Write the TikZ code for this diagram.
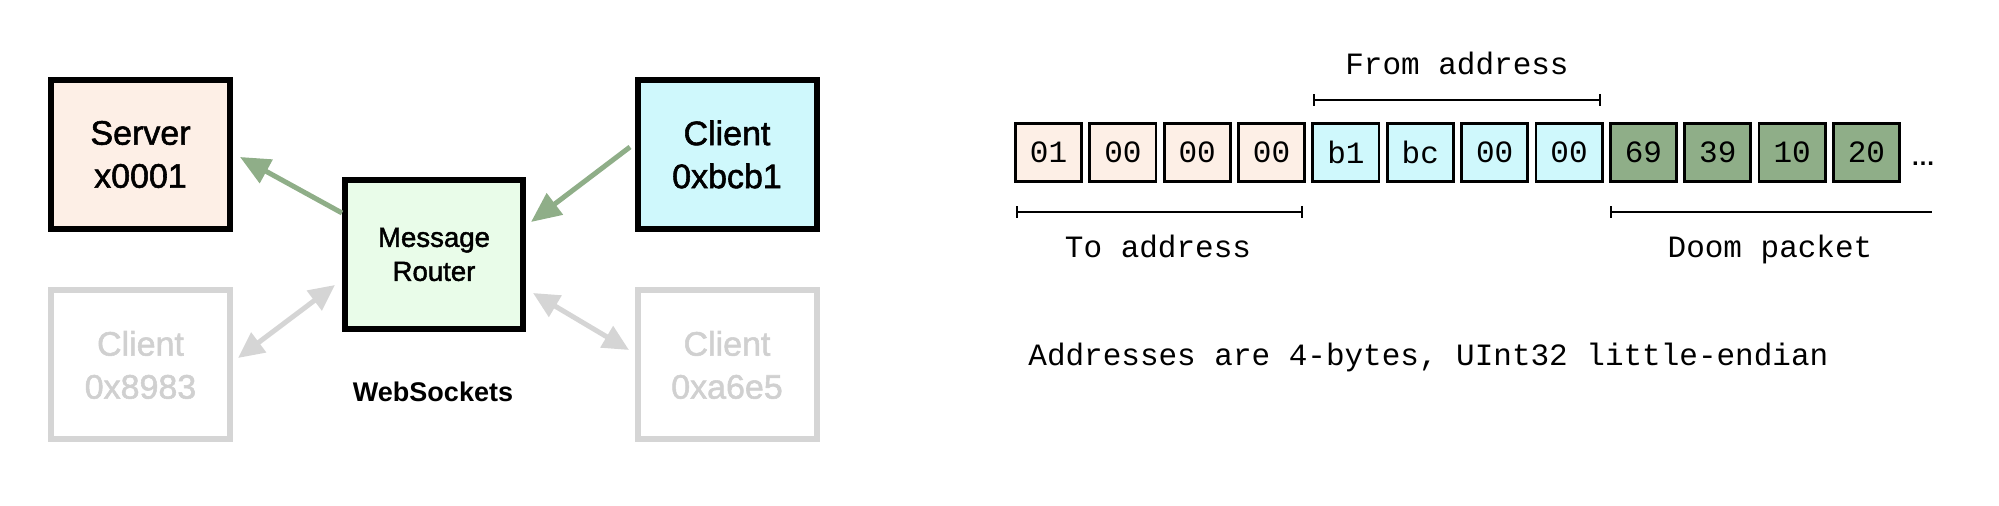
\documentclass[tikz,border=0pt]{standalone}
\usepackage{fontspec}
\newfontfamily\hv[FakeBold=1.6]{Liberation Sans}
\newfontfamily\hvb{Liberation Sans}
\newfontfamily\cour{Liberation Mono}
\usetikzlibrary{arrows.meta,calc}
\definecolor{peach}{HTML}{FDEFE6}
\definecolor{mint}{HTML}{E9FCE9}
\definecolor{cyanbox}{HTML}{CFF8FC}
\definecolor{sage}{HTML}{8FAE88}
\definecolor{fadegray}{HTML}{D5D5D5}
\definecolor{fadetext}{HTML}{D0D0D0}
\begin{document}
\begin{tikzpicture}[x=0.5pt,y=-0.5pt,
  bigbox/.style={draw=black, line width=3pt, minimum width=89.5pt, minimum height=74.5pt,
    inner sep=0pt, align=center, font=\hv\fontsize{17}{21.5}\selectfont},
  fadebox/.style={bigbox, draw=fadegray, text=fadetext},
  garrow/.style={draw=sage, line width=2.5pt, -{Triangle[length=15pt,width=13pt]}},
  farrow/.style={draw=fadegray, line width=2.5pt,
    {Triangle[length=13pt,width=12pt]}-{Triangle[length=13pt,width=12pt]}},
  bytebox/.style={draw=black, line width=1.4pt, minimum width=33.1pt, minimum height=29.1pt,
    inner sep=0pt, font=\cour\fontsize{15.5}{18}\selectfont},
  tobyte/.style={bytebox, fill=peach},
  frombyte/.style={bytebox, fill=cyanbox},
  doombyte/.style={bytebox, fill=sage},
  monolabel/.style={font=\cour\fontsize{15.5}{18}\selectfont, inner sep=0pt, anchor=base},
  bracket/.style={draw=black, line width=1.1pt}
]
\useasboundingbox (0,0) rectangle (1999,506);

% left diagram
\node[bigbox, fill=peach] (srv) at (140.5,154.5) {Server\\x0001};
\node[bigbox, fill=cyanbox] (cbcb) at (727,154.5) {Client\\0xbcb1};
\node[bigbox, fill=mint, minimum width=89pt, font=\hv\fontsize{13.8}{17}\selectfont] (router) at (434,254.5) {Message\\Router};
\node[fadebox] (c898) at (140.5,365) {Client\\0x8983};
\node[fadebox] (ca6e) at (727,365) {Client\\0xa6e5};
\node[font=\hvb\bfseries\fontsize{13.5}{16}\selectfont, inner sep=0pt] (ws) at (433,392) {WebSockets};

\draw[garrow] ([yshift=20.75pt]router.west) -- ([xshift=3.5pt,yshift=-1.25pt]srv.east);
\draw[garrow] ([xshift=-2.25pt,yshift=3.75pt]cbcb.west) -- ([xshift=2.5pt,yshift=16.25pt]router.east);
\draw[farrow] ([xshift=2.5pt,yshift=3.5pt]c898.east) -- ([xshift=-3.5pt,yshift=-15.25pt]router.west);
\draw[farrow] ([xshift=3.5pt,yshift=-19.25pt]router.east) -- ([xshift=-2.75pt,yshift=7.5pt]ca6e.west);

% byte layout
\foreach \i/\t/\s in {1/01/tobyte,2/00/tobyte,3/00/tobyte,4/00/tobyte,
                      5/b1/frombyte,6/bc/frombyte,7/00/frombyte,8/00/frombyte,
                      9/69/doombyte,10/39/doombyte,11/10/doombyte,12/20/doombyte}
  \node[\s] (b\i) at ({1048.5+74.36*(\i-1)},152.5) {\t};
\node[font=\hvb\bfseries\fontsize{12}{14}\selectfont, inner sep=0pt, anchor=base] (dots) at (1923,166) {…};

\coordinate (fromL) at (1313,100);
\coordinate (fromR) at (1601,100);
\coordinate (toL) at (1016,212);
\coordinate (toR) at (1303,212);
\coordinate (doomL) at (1610,212);
\coordinate (doomR) at (1932,212);
\draw[bracket, {Bar[width=6pt]}-{Bar[width=6pt]}] (fromL) -- (fromR);
\draw[bracket, {Bar[width=6pt]}-{Bar[width=6pt]}] (toL) -- (toR);
\draw[bracket, {Bar[width=6pt]}-] (doomL) -- (doomR);

\node[monolabel] (fromlab) at (1457,75) {From address};
\node[monolabel] (tolab) at (1158,258) {To address};
\node[monolabel] (doomlab) at (1770,258) {Doom packet};
\node[monolabel, anchor=base west] (note) at (1028,366) {Addresses are 4-bytes, UInt32 little-endian};
\end{tikzpicture}
\end{document}
